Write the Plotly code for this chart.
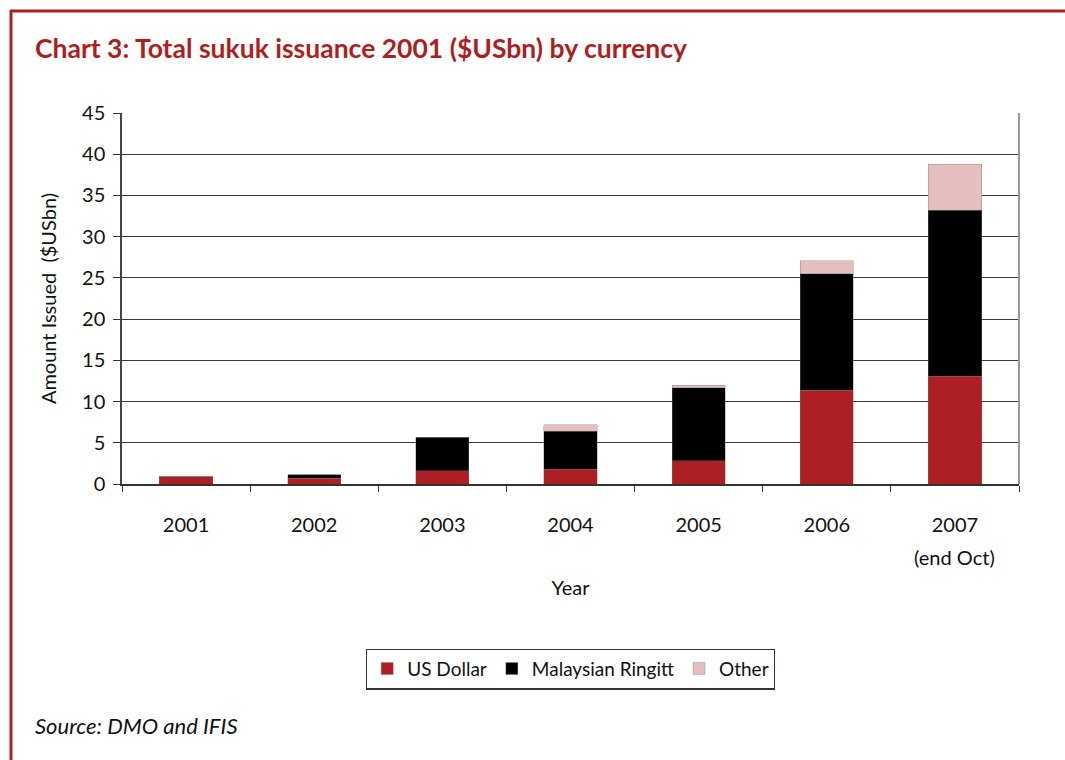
import plotly.graph_objects as go

years = ["2001", "2002", "2003", "2004", "2005", "2006", "2007"]
year_labels = ["2001", "2002", "2003", "2004", "2005", "2006", "2007"]
us_dollar = [0.9, 0.7, 1.6, 1.8, 2.8, 11.4, 13.1]
malaysian_ringgit = [0.0, 0.4, 4.1, 4.6, 8.85, 14.1, 20.1]
other = [0.0, 0.0, 0.0, 0.8, 0.35, 1.6, 5.6]
y_ticks = [0, 5, 10, 15, 20, 25, 30, 35, 40, 45]
last_note = "(end Oct)"

RED = "#AD1F22"
BLACK = "#000000"
PINK = "#E6BEBF"
FONT = "Lato"

W, H = 1065, 760
L, R, T, B = 122, 1019, 113, 484
pw, ph = R - L, B - T

def px(x):
    return (x - L) / pw

def py(y):
    return (B - y) / ph

fig = go.Figure()
for name, vals, col in [("US Dollar", us_dollar, RED),
                        ("Malaysian Ringitt", malaysian_ringgit, BLACK),
                        ("Other", other, PINK)]:
    fig.add_trace(go.Bar(x=years, y=vals, name=name,
                         marker=dict(color=col, line=dict(color="rgba(120,120,120,0.6)", width=0.6))))

fig.update_layout(
    width=W, height=H,
    margin=dict(l=L, r=W - R, t=T, b=H - B),
    barmode="stack", bargap=0.585,
    plot_bgcolor="white", paper_bgcolor="white",
    font=dict(family=FONT, color="#111111", size=18),
    showlegend=True,
    legend=dict(orientation="h", x=0.5, xanchor="center", y=py(669), yanchor="middle",
                bordercolor="#333333", borderwidth=1.2, font=dict(size=19, family=FONT),
                itemwidth=30, traceorder="normal"),
    xaxis=dict(type="category", categoryorder="array", categoryarray=years,
               range=[-0.5, len(years) - 0.5],
               tickvals=years, ticktext=year_labels, showline=True, linecolor="#333333",
               linewidth=1.5, ticks="outside", ticklen=6, tickcolor="#333333",
               tickson="boundaries", ticklabelstandoff=22, tickfont=dict(size=20),
               title=dict(text="Year", font=dict(size=20), standoff=46)),
    yaxis=dict(range=[0, 45], tickvals=y_ticks, showline=True, linecolor="#444444", linewidth=1.5,
               ticks="outside", ticklen=7, tickcolor="#333333", showgrid=True,
               gridcolor="#3a3a3a", gridwidth=1, tickfont=dict(size=20),
               ticklabelstandoff=4,
               title=dict(text="Amount Issued  ($USbn)", font=dict(size=20), standoff=20)),
)

fig.add_annotation(x=len(years) - 1, y=py(557), xref="x", yref="paper", text=last_note,
                   showarrow=False, font=dict(size=20, family=FONT), yanchor="middle")

fig.add_annotation(x=px(33), y=py(48), xref="paper", yref="paper", xanchor="left", yanchor="middle",
                   text="<b>Chart 3: Total sukuk issuance 2001 ($USbn) by currency</b>",
                   showarrow=False, font=dict(size=26.5, color=RED, family=FONT))
fig.add_annotation(x=px(33), y=py(725), xref="paper", yref="paper", xanchor="left", yanchor="middle",
                   text="<i>Source: DMO and IFIS</i>",
                   showarrow=False, font=dict(size=22, family=FONT, color="#111111"))

# frame and plot border
fig.add_shape(type="line", xref="paper", yref="paper", x0=px(10), x1=px(1066), y0=py(11), y1=py(11),
              line=dict(color=RED, width=3))
fig.add_shape(type="line", xref="paper", yref="paper", x0=px(11), x1=px(11), y0=py(10), y1=py(761),
              line=dict(color=RED, width=3))
fig.add_shape(type="line", xref="paper", yref="paper", x0=1, x1=1, y0=0, y1=1,
              line=dict(color="#999999", width=2))

fig.write_html("out.html")
